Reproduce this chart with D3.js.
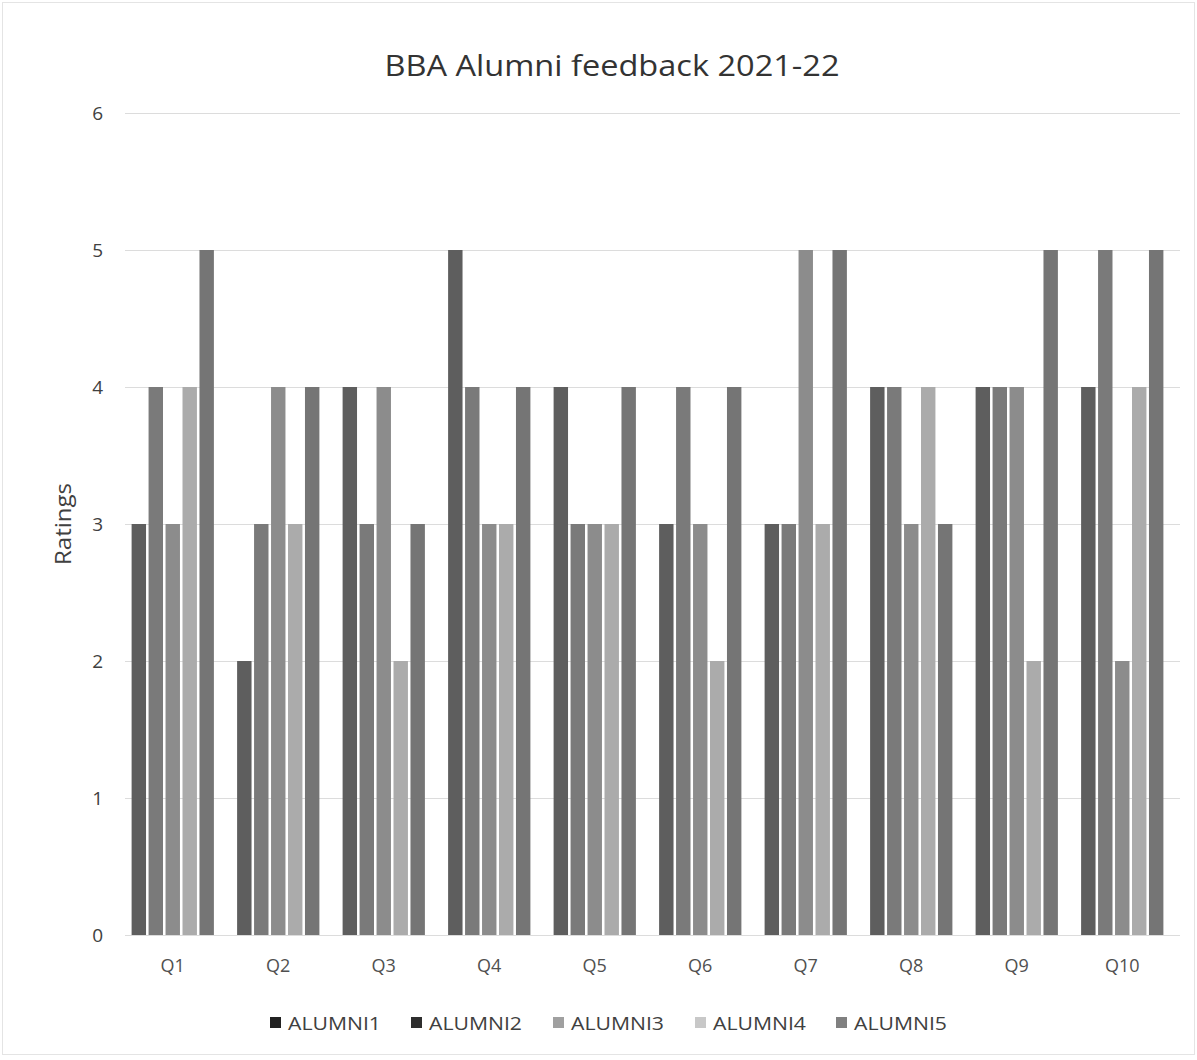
<!DOCTYPE html>
<html><head><meta charset="utf-8">
<script src="https://cdn.jsdelivr.net/npm/d3@7"></script>
<style>body{margin:0;background:#fff}svg{display:block}</style>
</head><body>
<svg id="chart" width="1197" height="1060"></svg>
<script>
const categories = ["Q1","Q2","Q3","Q4","Q5","Q6","Q7","Q8","Q9","Q10"];
const seriesNames = ["ALUMNI1","ALUMNI2","ALUMNI3","ALUMNI4","ALUMNI5"];
const alumni1 = [3,2,4,5,4,3,3,4,4,4];
const alumni2 = [4,3,3,4,3,4,3,4,4,5];
const alumni3 = [3,4,4,3,3,3,5,3,4,2];
const alumni4 = [4,3,2,3,3,2,3,4,2,4];
const alumni5 = [5,4,3,4,4,4,5,3,5,5];
const yTicks = [0,1,2,3,4,5,6];
const colors = ["#5e5e5e","#7a7a7a","#8c8c8c","#ababab","#757575"];
const legendColors = ["#222222","#2e2e2e","#a0a0a0","#c8c8c8","#808080"];

const seriesValues = [alumni1, alumni2, alumni3, alumni4, alumni5];
const svg = d3.select("#chart");
const font = "'Open Sans', 'Noto Sans', sans-serif";

// border
svg.append("rect").attr("x",2.5).attr("y",2.5).attr("width",1192).attr("height",1052)
  .attr("fill","none").attr("stroke","#e4e4e4");

const x0 = d3.scaleBand().domain(categories).range([120,1175]).paddingInner(0.22).paddingOuter(0.11);
const x1 = d3.scaleBand().domain(seriesNames).range([0,x0.bandwidth()]).paddingInner(0.15);
const y = d3.scaleLinear().domain([0,6]).range([935,113]);

// grid
const yAxis = d3.axisLeft(y).tickValues(yTicks).tickSize(-(1180-125)).tickPadding(22).tickFormat(d3.format("d"));
const gy = svg.append("g").attr("transform","translate(125,0)").call(yAxis);
gy.select(".domain").remove();
gy.selectAll(".tick line").attr("stroke","#dcdcdc").attr("stroke-width",1.2);
gy.selectAll(".tick text").attr("font-family",font).attr("font-size",19).attr("fill","#404040");

// bars
const groups = svg.append("g").selectAll("g").data(categories).join("g")
  .attr("transform", d => `translate(${x0(d)},0)`);
groups.selectAll("rect").data((c,i) => seriesNames.map((s,j) => ({s, v: seriesValues[j][i], j})))
  .join("rect")
  .attr("x", d => x1(d.s))
  .attr("width", x1.bandwidth())
  .attr("y", d => y(d.v))
  .attr("height", d => y(0) - y(d.v))
  .attr("fill", d => colors[d.j]);

// x axis labels
const xAxis = d3.axisBottom(x0).tickSize(0).tickPadding(24);
const gx = svg.append("g").attr("transform","translate(0,935)").call(xAxis);
gx.select(".domain").remove();
gx.selectAll(".tick text").attr("font-family",font).attr("font-size",18).attr("fill","#505050");

// title
svg.append("text").attr("x",612).attr("y",76).attr("text-anchor","middle")
  .attr("font-family",font).attr("font-size",30).attr("fill","#333")
  .attr("textLength",455).attr("lengthAdjust","spacingAndGlyphs")
  .text("BBA Alumni feedback 2021-22");

// y title
svg.append("text").attr("transform","translate(71,524) rotate(-90)").attr("text-anchor","middle")
  .attr("font-family",font).attr("font-size",21).attr("fill","#404040")
  .attr("textLength",82).attr("lengthAdjust","spacingAndGlyphs").text("Ratings");

// legend
const legendX = [270, 411, 553, 695, 836];
const lg = svg.append("g").selectAll("g").data(seriesNames).join("g")
  .attr("transform",(d,i)=>`translate(${legendX[i]},1023)`);
lg.append("rect").attr("x",0).attr("y",-6).attr("width",11).attr("height",11).attr("fill",(d,i)=>legendColors[i]);
lg.append("text").attr("x",18).attr("y",6.5).attr("font-family",font).attr("font-size",19)
  .attr("fill","#404040").attr("textLength",93).attr("lengthAdjust","spacingAndGlyphs").text(d=>d);
</script>
</body></html>
